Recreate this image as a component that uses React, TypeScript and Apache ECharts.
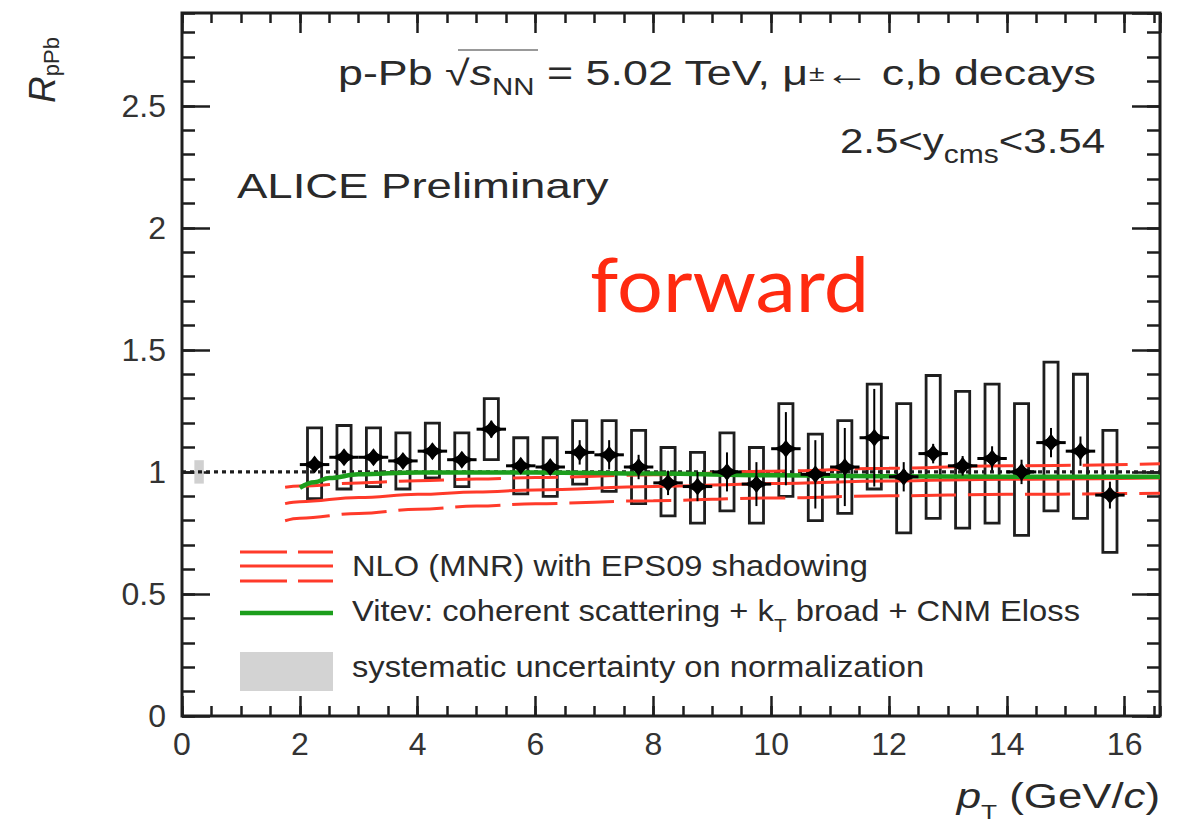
import React, { useEffect, useRef } from "react";
import * as echarts from "echarts";

// ---------------- data ----------------
const ptCenters = [2.25, 2.75, 3.25, 3.75, 4.25, 4.75, 5.25, 5.75, 6.25, 6.75, 7.25, 7.75, 8.25, 8.75, 9.25, 9.75, 10.25, 10.75, 11.25, 11.75, 12.25, 12.75, 13.25, 13.75, 14.25, 14.75, 15.25, 15.75];
const rpPb = [1.03, 1.06, 1.06, 1.045, 1.085, 1.05, 1.175, 1.025, 1.02, 1.08, 1.07, 1.02, 0.955, 0.94, 1.0, 0.95, 1.095, 0.99, 1.02, 1.14, 0.98, 1.075, 1.025, 1.055, 1.0, 1.12, 1.085, 0.905];
const statErr = [0.03, 0.025, 0.025, 0.025, 0.03, 0.03, 0.035, 0.03, 0.03, 0.05, 0.06, 0.05, 0.05, 0.06, 0.08, 0.09, 0.15, 0.14, 0.16, 0.2, 0.06, 0.04, 0.04, 0.05, 0.05, 0.06, 0.06, 0.055];
const sysHigh = [1.18, 1.19, 1.18, 1.16, 1.2, 1.16, 1.3, 1.14, 1.14, 1.21, 1.21, 1.17, 1.1, 1.08, 1.16, 1.1, 1.28, 1.155, 1.21, 1.36, 1.28, 1.395, 1.33, 1.36, 1.28, 1.45, 1.4, 1.17];
const sysLow = [0.89, 0.93, 0.94, 0.93, 0.975, 0.94, 1.05, 0.91, 0.9, 0.95, 0.92, 0.87, 0.82, 0.79, 0.84, 0.79, 0.9, 0.8, 0.83, 0.93, 0.75, 0.81, 0.77, 0.79, 0.74, 0.84, 0.81, 0.67];

const nloPt = [1.75, 2, 3, 4, 5, 6, 8, 10, 12, 14, 16.6];
const nloUpper = [0.937, 0.942, 0.955, 0.964, 0.971, 0.977, 0.988, 1.003, 1.015, 1.025, 1.033];
const nloCentral = [0.87, 0.878, 0.895, 0.908, 0.918, 0.926, 0.94, 0.952, 0.963, 0.97, 0.975];
const nloLower = [0.8, 0.81, 0.83, 0.847, 0.86, 0.87, 0.882, 0.893, 0.902, 0.908, 0.913];

const vitevPt = [2.0, 2.25, 2.5, 3, 4, 6, 8, 10, 12, 14, 16.6];
const vitev = [0.935, 0.958, 0.975, 0.99, 0.998, 0.998, 0.993, 0.986, 0.982, 0.98, 0.98];

const normBox = [[0.29, 0.952, 1.048]];
const unityLine = [[0, 1], [16.6, 1]];

const X_MAX = 16.6;
const Y_MAX = 2.88;

const F = "'Liberation Sans', Arial, Helvetica, sans-serif";
const RED = "#ff3a2a";
const GREEN = "#1c9e1c";
const INK = "#1e1e1e";
const TXT = "#2a2a2a";

export default function App() {
  const ref = useRef<HTMLDivElement>(null);

  useEffect(() => {
    if (!ref.current) return;
    const chart = echarts.init(ref.current, undefined, { renderer: "svg" });

    const tickStyle = { color: INK, width: 2.5 };
    const xBase: any = {
      type: "value", min: 0, max: X_MAX,
      axisLine: { show: false, onZero: false },
      splitLine: { show: false },
    };
    const yBase: any = {
      type: "value", min: 0, max: Y_MAX,
      axisLine: { show: false, onZero: false },
      splitLine: { show: false },
    };

    const starPoints = (cx: number, cy: number) => {
      const pts: number[][] = [];
      for (let k = 0; k < 8; k++) {
        const ang = (k * Math.PI) / 4;
        let rad = 5.5;
        if (k % 2 === 0) rad = k % 4 === 0 ? 12 : 9;
        pts.push([cx + Math.cos(ang) * rad, cy + Math.sin(ang) * rad]);
      }
      return pts;
    };

    const option: any = {
      animation: false,
      backgroundColor: "#ffffff",
      grid: { left: 182, right: 23, top: 13, bottom: 115, show: true, borderColor: INK, borderWidth: 3, backgroundColor: "transparent" },
      xAxis: [
        { ...xBase, position: "bottom", interval: 2,
          axisTick: { inside: true, length: 20, lineStyle: tickStyle },
          axisLabel: { margin: 12, fontSize: 32, fontFamily: F, color: "#333", showMaxLabel: false } },
        { ...xBase, position: "bottom", interval: 0.5,
          axisTick: { inside: true, length: 10, lineStyle: tickStyle }, axisLabel: { show: false } },
        { ...xBase, position: "top", interval: 2,
          axisTick: { inside: true, length: 20, lineStyle: tickStyle }, axisLabel: { show: false } },
        { ...xBase, position: "top", interval: 0.5,
          axisTick: { inside: true, length: 10, lineStyle: tickStyle }, axisLabel: { show: false } },
      ],
      yAxis: [
        { ...yBase, position: "left", interval: 0.5,
          axisTick: { inside: true, length: 28, lineStyle: tickStyle },
          axisLabel: { margin: 16, fontSize: 32, fontFamily: F, color: "#333", showMaxLabel: false } },
        { ...yBase, position: "left", interval: 0.1,
          axisTick: { inside: true, length: 13, lineStyle: tickStyle }, axisLabel: { show: false } },
        { ...yBase, position: "right", interval: 0.5,
          axisTick: { inside: true, length: 28, lineStyle: tickStyle }, axisLabel: { show: false } },
        { ...yBase, position: "right", interval: 0.1,
          axisTick: { inside: true, length: 13, lineStyle: tickStyle }, axisLabel: { show: false } },
      ],
      series: [
        {
          type: "custom", name: "norm", z: 1,
          data: normBox,
          encode: { x: 0, y: [1, 2] },
          renderItem: (params: any, api: any) => {
            const p1 = api.coord([api.value(0) - 0.08, api.value(2)]);
            const p2 = api.coord([api.value(0) + 0.08, api.value(1)]);
            return { type: "rect", shape: { x: p1[0], y: p1[1], width: p2[0] - p1[0], height: p2[1] - p1[1] }, style: { fill: "#d0d0d0" } };
          },
        },
        {
          type: "line", name: "unity", data: unityLine, showSymbol: false, z: 2,
          lineStyle: { color: INK, width: 3.2, type: [4, 4] },
        },
        {
          type: "custom", name: "sys", z: 3,
          data: ptCenters.map((x, i) => [x, sysLow[i], sysHigh[i]]),
          encode: { x: 0, y: [1, 2] },
          renderItem: (params: any, api: any) => {
            const x = api.value(0);
            const p1 = api.coord([x - 0.12, api.value(2)]);
            const p2 = api.coord([x + 0.12, api.value(1)]);
            return { type: "rect", shape: { x: p1[0], y: p1[1], width: p2[0] - p1[0], height: p2[1] - p1[1] }, style: { fill: "none", stroke: INK, lineWidth: 2.8 } };
          },
        },
        {
          type: "line", name: "NLO upper", data: nloPt.map((x, i) => [x, nloUpper[i]]), smooth: 0.4, smoothMonotone: "x", showSymbol: false, z: 4,
          lineStyle: { color: RED, width: 3, type: [45, 12] },
        },
        {
          type: "line", name: "NLO central", data: nloPt.map((x, i) => [x, nloCentral[i]]), smooth: 0.4, smoothMonotone: "x", showSymbol: false, z: 4,
          lineStyle: { color: RED, width: 3 },
        },
        {
          type: "line", name: "NLO lower", data: nloPt.map((x, i) => [x, nloLower[i]]), smooth: 0.4, smoothMonotone: "x", showSymbol: false, z: 4,
          lineStyle: { color: RED, width: 3, type: [45, 12] },
        },
        {
          type: "line", name: "Vitev", data: vitevPt.map((x, i) => [x, vitev[i]]), smooth: 0.4, smoothMonotone: "x", showSymbol: false, z: 5,
          lineStyle: { color: GREEN, width: 4.5 },
        },
        {
          type: "custom", name: "data", z: 6,
          data: ptCenters.map((x, i) => [x, rpPb[i], statErr[i]]),
          encode: { x: 0, y: 1 },
          renderItem: (params: any, api: any) => {
            const x = api.value(0), y = api.value(1), e = api.value(2);
            const c = api.coord([x, y]);
            const l = api.coord([x - 0.25, y]);
            const r = api.coord([x + 0.25, y]);
            const t = api.coord([x, y + e]);
            const b = api.coord([x, y - e]);
            return {
              type: "group",
              children: [
                { type: "line", shape: { x1: c[0], y1: t[1], x2: c[0], y2: b[1] }, style: { stroke: "#000", lineWidth: 2 } },
                { type: "line", shape: { x1: l[0], y1: c[1], x2: r[0], y2: c[1] }, style: { stroke: "#000", lineWidth: 3 } },
                { type: "polygon", shape: { points: starPoints(c[0], c[1]) }, style: { fill: "#000" } },
                { type: "circle", shape: { cx: c[0], cy: c[1], r: 5.5 }, style: { fill: "#000" } },
              ],
            };
          },
        },
      ],
      graphic: [
        // title
        {
          type: "text", x: 338, y: 47, scaleX: 1.28,
          style: {
            text: "{n|p-Pb }{n|√}{i|s}{sub|NN}{n| = 5.02 TeV, μ}{sup|±}{n|← c,b decays}",
            verticalAlign: "top", align: "left",
            rich: {
              n: { fontSize: 35, fontFamily: F, fill: TXT, lineHeight: 52 },
              i: { fontSize: 35, fontFamily: F, fontStyle: "italic", fill: TXT, lineHeight: 52 },
              sub: { fontSize: 23, fontFamily: F, fill: TXT, lineHeight: 14, verticalAlign: "bottom" },
              sup: { fontSize: 22, fontFamily: F, fill: TXT, lineHeight: 52 },
            },
          },
        },
        { type: "line", shape: { x1: 458, y1: 50, x2: 538, y2: 50 }, style: { stroke: "#777", lineWidth: 1.5 } },
        {
          type: "text", x: 1105, y: 115, scaleX: 1.2,
          style: {
            text: "{n|2.5<y}{sub|cms}{n|<3.54}",
            verticalAlign: "top", align: "right",
            rich: {
              n: { fontSize: 35, fontFamily: F, fill: TXT, lineHeight: 52 },
              sub: { fontSize: 25, fontFamily: F, fill: TXT, lineHeight: 8, verticalAlign: "bottom" },
            },
          },
        },
        {
          type: "text", x: 237, y: 186, scaleX: 1.3,
          style: { text: "ALICE Preliminary", fontSize: 35, fontFamily: F, fill: TXT, verticalAlign: "middle", align: "left" },
        },
        {
          type: "text", x: 590, y: 283, scaleX: 1.08,
          style: { text: "forward", fontSize: 75, fontFamily: "Lato, 'Open Sans', sans-serif", fill: "#ff2a10", verticalAlign: "middle", align: "left" },
        },
        // legend samples
        { type: "line", shape: { x1: 240, y1: 552, x2: 333, y2: 552 }, style: { stroke: RED, lineWidth: 3, lineDash: [47, 11] } },
        { type: "line", shape: { x1: 240, y1: 566, x2: 333, y2: 566 }, style: { stroke: RED, lineWidth: 3 } },
        { type: "line", shape: { x1: 240, y1: 581, x2: 333, y2: 581 }, style: { stroke: RED, lineWidth: 3, lineDash: [47, 11] } },
        { type: "line", shape: { x1: 240, y1: 613, x2: 333, y2: 613 }, style: { stroke: GREEN, lineWidth: 4.5 } },
        { type: "rect", shape: { x: 240, y: 652, width: 93, height: 39 }, style: { fill: "#d3d3d3" } },
        {
          type: "text", x: 352, y: 566, scaleX: 1.09,
          style: { text: "NLO (MNR) with EPS09 shadowing", fontSize: 30, fontFamily: F, fill: TXT, verticalAlign: "middle", align: "left" },
        },
        {
          type: "text", x: 352, y: 587, scaleX: 1.09,
          style: {
            text: "{n|Vitev: coherent scattering + k}{sub|T}{n| broad + CNM Eloss}",
            verticalAlign: "top", align: "left",
            rich: {
              n: { fontSize: 30, fontFamily: F, fill: TXT, lineHeight: 48 },
              sub: { fontSize: 19, fontFamily: F, fill: TXT, lineHeight: 4, verticalAlign: "bottom" },
            },
          },
        },
        {
          type: "text", x: 352, y: 667, scaleX: 1.09,
          style: { text: "systematic uncertainty on normalization", fontSize: 30, fontFamily: F, fill: TXT, verticalAlign: "middle", align: "left" },
        },
        // axis titles
        {
          type: "text", x: 1160, y: 770, scaleX: 1.25,
          style: {
            text: "{i|p}{sub|T}{n| (GeV/}{i|c}{n|)}",
            verticalAlign: "top", align: "right",
            rich: {
              n: { fontSize: 35, fontFamily: F, fill: TXT, lineHeight: 52 },
              i: { fontSize: 35, fontFamily: F, fontStyle: "italic", fill: TXT, lineHeight: 52 },
              sub: { fontSize: 21, fontFamily: F, fill: TXT, lineHeight: 4, verticalAlign: "bottom" },
            },
          },
        },
        {
          type: "text", x: 22, y: 103, rotation: Math.PI / 2,
          style: {
            text: "{i|R}{sub|pPb}",
            verticalAlign: "top", align: "left",
            rich: {
              i: { fontSize: 37, fontFamily: F, fontStyle: "italic", fill: TXT, lineHeight: 40 },
              sub: { fontSize: 22, fontFamily: F, fill: TXT, lineHeight: 20, verticalAlign: "bottom" },
            },
          },
        },
      ],
    };

    chart.setOption(option);
    return () => chart.dispose();
  }, []);

  return <div ref={ref} style={{ position: "absolute", left: 0, top: 0, width: 1183, height: 831 }} />;
}
